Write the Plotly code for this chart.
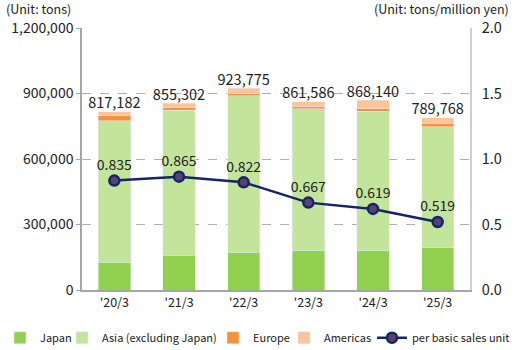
import plotly.graph_objects as go

categories = ["'20/3", "'21/3", "'22/3", "'23/3", "'24/3", "'25/3"]
japan = [124000, 160000, 174000, 182000, 179000, 196000]
europe = [21000, 12000, 12000, 12000, 12000, 15000]
americas = [20000, 20000, 23000, 20000, 37000, 27000]
totals = [817182, 855302, 923775, 861586, 868140, 789768]
asia = [t - j - e - a for t, j, e, a in zip(totals, japan, europe, americas)]
per_unit = [0.835, 0.865, 0.822, 0.667, 0.619, 0.519]

FONT = "Noto Sans CJK JP"
TXT = "#222222"

fig = go.Figure()
fig.add_bar(x=categories, y=japan, name="Japan", marker_color="#92d050", width=0.5, legend="legend")
fig.add_bar(x=categories, y=asia, name="Asia (excluding Japan)", marker_color="#c3e59b", width=0.5, legend="legend2")
fig.add_bar(x=categories, y=europe, name="Europe", marker_color="#f7913d", width=0.5, legend="legend3")
fig.add_bar(x=categories, y=americas, name="Americas", marker_color="#fbc49a", width=0.5, legend="legend4")

fig.add_scatter(x=categories, y=totals, mode="text",
                text=[f"{v:,}" for v in totals], textposition="top center",
                textfont=dict(size=14.5, color=TXT, family=FONT),
                showlegend=False, hoverinfo="skip", cliponaxis=False)

fig.add_scatter(x=categories, y=per_unit, yaxis="y2", name="per basic sales unit",
                mode="lines+markers+text", legend="legend5",
                text=[f"{v:.3f}" for v in per_unit], textposition="top center",
                textfont=dict(size=14, color=TXT, family=FONT),
                line=dict(color="#14246b", width=2.5),
                marker=dict(size=10, color="#5b416e", line=dict(color="#14246b", width=2.5)),
                cliponaxis=False)

def leg(px):
    return dict(orientation="h", xref="container", yref="container", x=px / 519, xanchor="left",
                y=0.035, yanchor="middle", font=dict(size=11), itemwidth=30,
                bgcolor="rgba(0,0,0,0)")

fig.update_layout(
    width=519, height=350,
    barmode="stack",
    margin=dict(l=82, r=49, t=28, b=60),
    plot_bgcolor="white", paper_bgcolor="white",
    font=dict(family=FONT, color=TXT, size=13),
    xaxis=dict(showline=True, linecolor="#a6a6a6", linewidth=1.5, ticks="",
               tickfont=dict(size=12.5), showgrid=False),
    yaxis=dict(range=[0, 1200000], dtick=300000, tickformat=",",
               showline=True, linecolor="#a6a6a6", linewidth=1.5,
               ticks="outside", ticklen=4, tickcolor="#a6a6a6",
               gridcolor="#b0b0b0", griddash="dash", gridwidth=1,
               tickfont=dict(size=14), zeroline=False),
    yaxis2=dict(range=[0, 2.0], dtick=0.5, tickformat=".1f", overlaying="y", side="right",
                showline=True, linecolor="#cfcfcf", linewidth=1.5,
                ticks="", ticklabelstandoff=7,
                showgrid=False, zeroline=False, tickfont=dict(size=14.5)),
    legend=leg(0),
    legend2=leg(62),
    legend3=leg(213),
    legend4=leg(284),
    legend5=leg(372),
    annotations=[
        dict(text="(Unit: tons)", xref="paper", yref="paper", x=-0.2, y=1.0,
             xanchor="left", yanchor="bottom", yshift=8, showarrow=False, font=dict(size=12.5)),
        dict(text="(Unit: tons/million yen)", xref="paper", yref="paper", x=1.105, y=1.0,
             xanchor="right", yanchor="bottom", yshift=8, showarrow=False, font=dict(size=12.5)),
    ],
)

fig.write_html("out.html")
